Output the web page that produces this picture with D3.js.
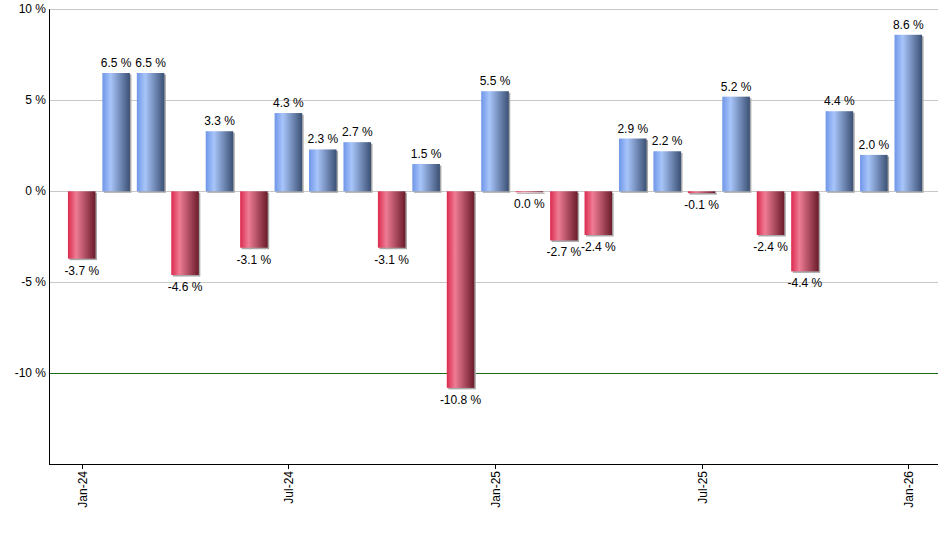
<!DOCTYPE html>
<html>
<head>
<meta charset="utf-8">
<script src="https://cdn.jsdelivr.net/npm/d3@7"></script>
<style>
  body { margin: 0; background: #fff; }
  svg { display: block; font-family: Arial, "Liberation Sans", sans-serif; }
</style>
</head>
<body>
<div id="chart"></div>
<script>
const months = ["Jan-24","Feb-24","Mar-24","Apr-24","May-24","Jun-24","Jul-24","Aug-24","Sep-24","Oct-24","Nov-24","Dec-24",
                "Jan-25","Feb-25","Mar-25","Apr-25","May-25","Jun-25","Jul-25","Aug-25","Sep-25","Oct-25","Nov-25","Dec-25","Jan-26"];
const returns = [-3.7, 6.5, 6.5, -4.6, 3.3, -3.1, 4.3, 2.3, 2.7, -3.1, 1.5, -10.8,
                 5.5, -0.04, -2.7, -2.4, 2.9, 2.2, -0.1, 5.2, -2.4, -4.4, 4.4, 2.0, 8.6];
const tickMonths = ["Jan-24","Jul-24","Jan-25","Jul-25","Jan-26"];
const yTicks = [10, 5, 0, -5, -10];

const width = 940, height = 550;
const plot = { left: 49, right: 938, top: 9.3, bottom: 464.3 };

const svg = d3.select("#chart").append("svg")
    .attr("width", width)
    .attr("height", height);

const defs = svg.append("defs");
function barGradient(id, c0, c1, c2) {
  const g = defs.append("linearGradient").attr("id", id)
      .attr("x1", "0%").attr("x2", "100%").attr("y1", "0%").attr("y2", "0%");
  g.append("stop").attr("offset", "0%").attr("stop-color", c0);
  g.append("stop").attr("offset", "30%").attr("stop-color", c1);
  g.append("stop").attr("offset", "100%").attr("stop-color", c2);
}
barGradient("gradPos", "#6f96e8", "#a8c5fa", "#3b5074");
barGradient("gradNeg", "#dc2a4e", "#ee7c94", "#6a1b2b");

const x = d3.scaleBand()
    .domain(months)
    .range([64.5, 925.5])
    .paddingInner(0.2)
    .paddingOuter(0.1);

const y = d3.scaleLinear()
    .domain([-15, 10])
    .range([plot.bottom, plot.top]);

// gridlines
svg.append("g")
  .selectAll("line")
  .data(yTicks)
  .join("line")
    .attr("x1", plot.left).attr("x2", plot.right)
    .attr("y1", d => Math.round(y(d)) + 0.5).attr("y2", d => Math.round(y(d)) + 0.5)
    .attr("stroke", d => d === -10 ? "#1a6e1a" : "#c8c8c8")
    .attr("stroke-width", 1);

// y labels
svg.append("g")
  .selectAll("text")
  .data(yTicks)
  .join("text")
    .attr("x", plot.left - 3)
    .attr("y", d => y(d) + 4)
    .attr("text-anchor", "end")
    .attr("font-size", 12)
    .attr("fill", "#000")
    .text(d => `${d} %`);

const bars = svg.append("g")
  .selectAll("g")
  .data(months.map((m, i) => ({ m, v: returns[i] })))
  .join("g");

// shadow
bars.append("rect")
    .attr("x", d => x(d.m) + 1.5)
    .attr("y", d => Math.min(y(d.v), y(0)) + 1.5)
    .attr("width", x.bandwidth())
    .attr("height", d => Math.max(Math.abs(y(d.v) - y(0)), 1))
    .attr("fill", "#a8a8a8");

bars.append("rect")
    .attr("x", d => x(d.m))
    .attr("y", d => Math.min(y(d.v), y(0)))
    .attr("width", x.bandwidth())
    .attr("height", d => Math.max(Math.abs(y(d.v) - y(0)), 1))
    .attr("fill", d => d.v >= 0 ? "url(#gradPos)" : "url(#gradNeg)");

bars.append("text")
    .attr("x", d => x(d.m) + x.bandwidth() / 2)
    .attr("y", d => d.v >= 0 ? y(d.v) - 6 : y(d.v) + 16)
    .attr("text-anchor", "middle")
    .attr("font-size", 12)
    .attr("fill", "#000")
    .text(d => `${d.v.toFixed(1) === "-0.0" ? "0.0" : d.v.toFixed(1)} %`);

// axes lines
svg.append("line")
    .attr("x1", plot.left + 0.5).attr("x2", plot.left + 0.5)
    .attr("y1", plot.top).attr("y2", plot.bottom + 0.5)
    .attr("stroke", "#000");
svg.append("line")
    .attr("x1", plot.left).attr("x2", plot.right)
    .attr("y1", Math.round(plot.bottom) + 0.5).attr("y2", Math.round(plot.bottom) + 0.5)
    .attr("stroke", "#000");

// x ticks
const xt = svg.append("g")
  .selectAll("g")
  .data(tickMonths)
  .join("g")
    .attr("transform", d => `translate(${Math.round(x(d) + x.bandwidth() / 2) + 0.5},${Math.round(plot.bottom)})`);
xt.append("line").attr("y1", 0).attr("y2", 5).attr("stroke", "#000");
xt.append("text")
    .attr("transform", "translate(4,7) rotate(-90)")
    .attr("text-anchor", "end")
    .attr("font-size", 12)
    .attr("fill", "#000")
    .text(d => d);
</script>
</body>
</html>
